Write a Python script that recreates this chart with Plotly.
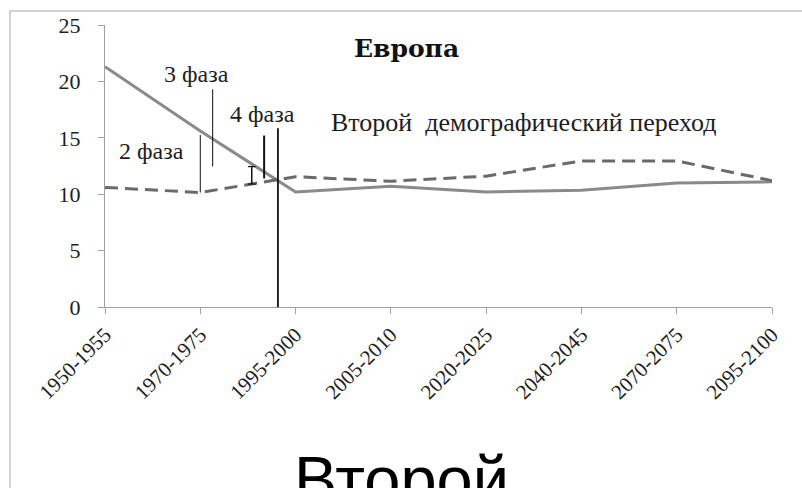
import plotly.graph_objects as go

categories = ["1950-1955", "1970-1975", "1995-2000", "2005-2010",
              "2020-2025", "2040-2045", "2070-2075", "2095-2100"]
birth_rate = [21.3, 15.6, 10.2, 10.7, 10.2, 10.35, 11.0, 11.1]
death_rate = [10.6, 10.15, 11.55, 11.15, 11.6, 12.95, 12.95, 11.2]
y_ticks = [0, 5, 10, 15, 20, 25]

SERIF = "Liberation Serif, Times New Roman, serif"
TXT = "#1e1e1e"

fig = go.Figure()
fig.add_trace(go.Scatter(x=categories, y=birth_rate, mode="lines",
                         line=dict(color="#8a8a8a", width=3), showlegend=False))
fig.add_trace(go.Scatter(x=categories, y=death_rate, mode="lines",
                         line=dict(color="#6a6a6a", width=3, dash="13px,7px"),
                         showlegend=False))

# phase marker lines (category index coordinates)
markers = [
    (1.815, 0.0, 15.85, 1.8),
    (1.0, 10.15, 15.25, 1.0),
    (1.13, 12.45, 19.3, 1.0),
    (1.67, 11.4, 15.2, 2.0),
    (1.54, 10.9, 12.45, 1.5),
]
for x, y0, y1, w in markers:
    fig.add_shape(type="line", xref="x", yref="y", x0=x, x1=x, y0=y0, y1=y1,
                  line=dict(color="#111111", width=w))
# small serifs on the short marker
for yy in (10.9, 12.45):
    fig.add_shape(type="line", xref="x", yref="y", x0=1.50, x1=1.58, y0=yy, y1=yy,
                  line=dict(color="#111111", width=1.2))

# outer frame
fig.add_shape(type="rect", xref="paper", yref="paper",
              x0=-0.1424, x1=1.2, y0=-1.0, y1=1.0496,
              line=dict(color="#c4c4c4", width=1.5))

labels = [
    ("3 фаза", 0.955, 20.7, 24),
    ("2 фаза", 0.49, 13.85, 24),
    ("4 фаза", 1.65, 17.1, 24),
    ("Второй  демографический переход", 4.39, 16.4, 26),
]
for t, x, y, s in labels:
    fig.add_annotation(text=t, x=x, y=y, xref="x", yref="y", showarrow=False,
                       font=dict(family=SERIF, size=s, color=TXT))
fig.add_annotation(text="<b>Европа</b>", x=3.16, y=22.95, xref="x", yref="y",
                   showarrow=False,
                   font=dict(family="DejaVu Serif, serif", size=25, color="#111111"))
fig.add_annotation(text="Второй", x=0.445, y=-0.475, xref="paper", yref="paper",
                   xanchor="center", yanchor="top", showarrow=False,
                   font=dict(family="Liberation Sans, Arial, sans-serif", size=65,
                             color="#000000"))

fig.update_xaxes(type="category", range=[0, 7], showline=True, linecolor="#a0a0a0",
                 linewidth=1.2, ticks="outside", ticklen=6, tickcolor="#a0a0a0",
                 tickangle=-45, showgrid=False, zeroline=False,
                 tickfont=dict(family=SERIF, size=21, color=TXT))
fig.update_yaxes(range=[0, 25], tickvals=y_ticks, showline=True, linecolor="#a0a0a0",
                 linewidth=1.2, ticks="outside", ticklen=6, tickcolor="#a0a0a0",
                 showgrid=False, zeroline=False, ticklabelstandoff=13,
                 tickfont=dict(family=SERIF, size=22, color=TXT))

fig.update_layout(width=802, height=488, margin=dict(l=105, r=30, t=25, b=181),
                  paper_bgcolor="white", plot_bgcolor="white")
fig.write_html("out.html", config={"displayModeBar": False},
               post_script="document.body.style.margin='0px';document.body.style.overflow='hidden';")
